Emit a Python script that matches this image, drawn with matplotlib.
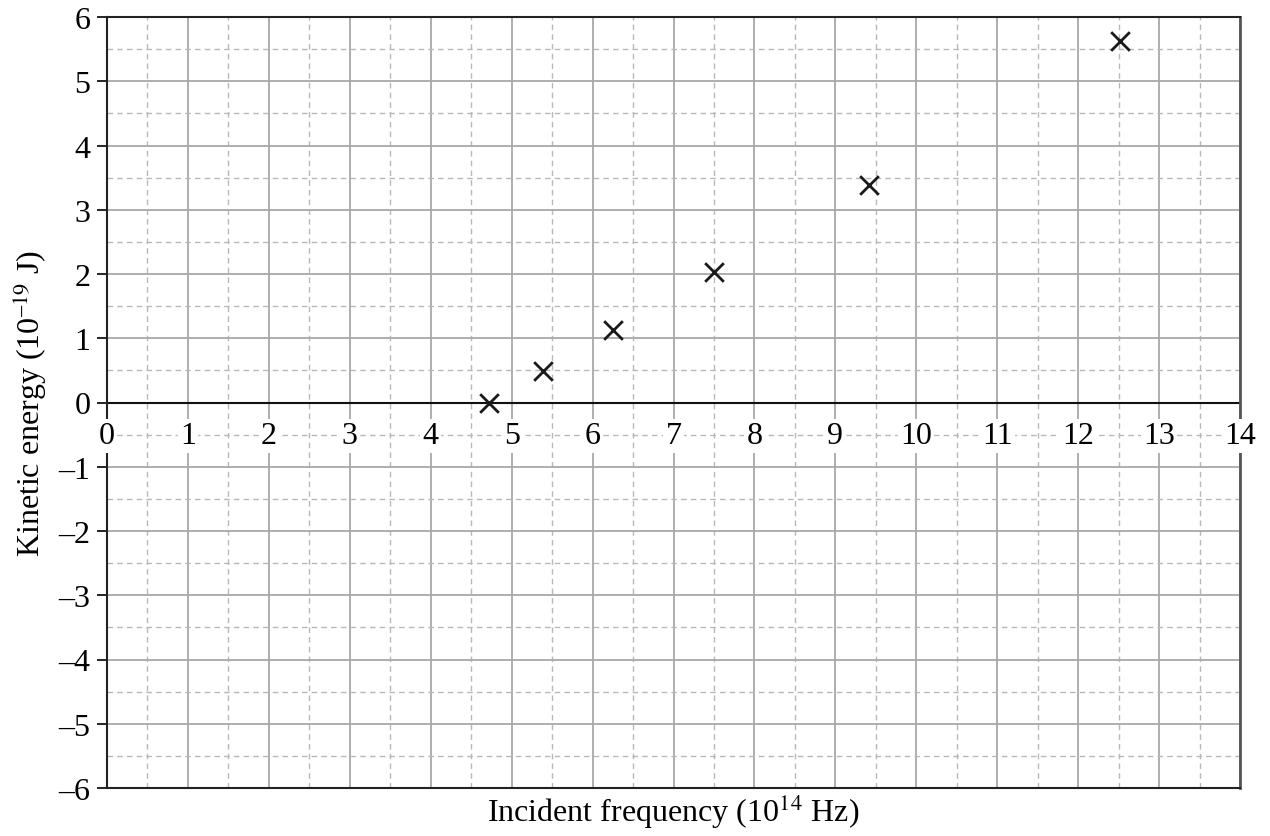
import matplotlib
matplotlib.use("Agg")
import matplotlib.pyplot as plt
import numpy as np

plt.rcParams['font.family'] = ['Liberation Serif', 'DejaVu Serif']
plt.rcParams['mathtext.fontset'] = 'stix'

freq = [4.72, 5.39, 6.25, 7.50, 9.41, 12.52]
energy = [0.0, 0.49, 1.13, 2.03, 3.39, 5.63]
x_ticks = list(range(0, 15))
y_ticks = list(range(-6, 7))
y_labels = [('\u2013' + str(-v)) if v < 0 else str(v) for v in y_ticks]

fig = plt.figure(figsize=(12.7, 8.37), dpi=100)
ax = fig.add_axes([107/1270, 1 - 789/837, (1240-107)/1270, (789-18)/837])
ax.set_xlim(0, 14)
ax.set_ylim(-6, 6)

ax.set_xticks(x_ticks)
ax.set_xticks(np.arange(0.5, 14, 1.0), minor=True)
ax.set_yticks(y_ticks)
ax.set_yticks(np.arange(-5.5, 6, 1.0), minor=True)
ax.set_yticklabels(y_labels, fontsize=23)
ax.set_xticklabels([])
ax.tick_params(axis='x', which='both', length=0)
ax.tick_params(axis='y', which='major', length=7, width=1.2, direction='out', pad=5)
ax.tick_params(axis='y', which='minor', length=0)

ax.grid(which='major', color='#a8a8a8', linewidth=1.3, linestyle='-')
ax.grid(which='minor', color='#b8b8b8', linewidth=1.0, linestyle=(0, (4, 3)))
ax.set_axisbelow(True)

for s in ['left', 'top', 'bottom']:
    ax.spines[s].set_color('#222222')
    ax.spines[s].set_linewidth(1.5)
ax.spines['right'].set_color('#555555')
ax.spines['right'].set_linewidth(2)

ax.axhline(0, color='#111111', linewidth=1.5, zorder=2)

for xv in x_ticks:
    ax.text(xv, -0.52, str(xv), ha='center', va='center', fontsize=23,
            bbox=dict(facecolor='white', edgecolor='none', pad=1.5), zorder=3)

ax.scatter(freq, energy, marker='x', s=180, color='#1a1a1a', linewidths=2, zorder=4)

ax.set_xlabel('Incident frequency (10$^{14}$ Hz)', fontsize=23, va='center')
ax.xaxis.set_label_coords(0.5, -0.03)
ax.set_ylabel('Kinetic energy (10$^{\u201319}$ J)', fontsize=23, va='center')
ax.yaxis.set_label_coords(-(107 - 30) / 1133, 0.5)

fig.savefig('out.png', dpi=100)
